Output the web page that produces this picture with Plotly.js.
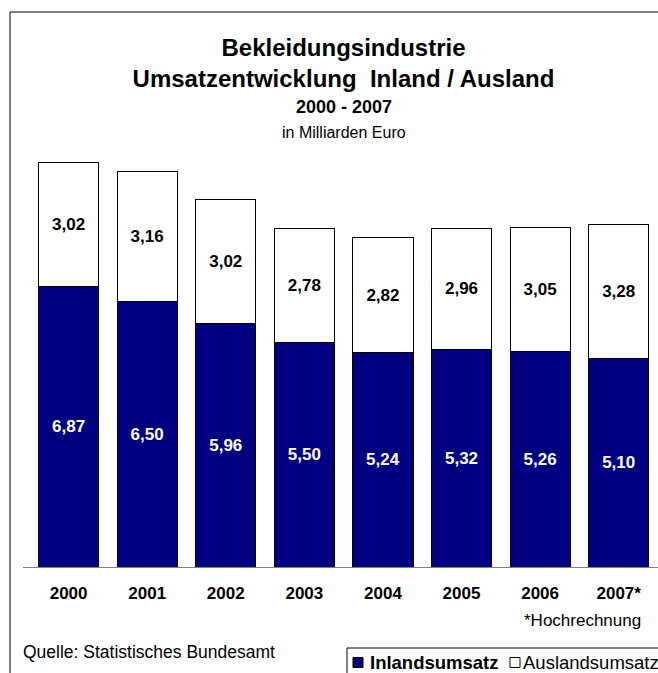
<!DOCTYPE html>
<html>
<head>
<meta charset="utf-8">
<script src="https://cdn.plot.ly/plotly-3.0.1.min.js"></script>
<style>
html, body { margin: 0; padding: 0; overflow: hidden; background: #fff; }
#chart { width: 720px; height: 673px; }
</style>
</head>
<body>
<div id="chart"></div>
<script>
// ---- data ----
const years = ['2000', '2001', '2002', '2003', '2004', '2005', '2006', '2007*'];
const inland = [6.87, 6.50, 5.96, 5.50, 5.24, 5.32, 5.26, 5.10];
const ausland = [3.02, 3.16, 3.02, 2.78, 2.82, 2.96, 3.05, 3.28];
const seriesNames = ['Inlandsumsatz', 'Auslandsumsatz'];
const titleLines = ['Bekleidungsindustrie', 'Umsatzentwicklung\u00a0 Inland / Ausland'];
const subTitle = '2000 - 2007';
const unitText = 'in Milliarden Euro';
const footnote = '*Hochrechnung';
const sourceText = 'Quelle: Statistisches Bundesamt';

// ---- geometry helpers (pixel -> paper) ----
const W = 720, H = 673;
const M = { l: 23, r: 62, t: 158, b: 106 };
const PW = W - M.l - M.r, PH = H - M.t - M.b;
const px = v => (v - M.l) / PW;
const py = v => (H - M.b - v) / PH;

const FONT = 'Arial, "Liberation Sans", sans-serif';
const NAVY = '#000080';

const traces = [
  {
    type: 'bar', x: years, y: inland, name: seriesNames[0],
    width: 0.765,
    marker: { color: NAVY, line: { color: '#000000', width: 1 } },
    texttemplate: '%{y:.2f}', textposition: 'inside', insidetextanchor: 'middle',
    constraintext: 'none',
    textfont: { family: FONT, size: 17, color: '#ffffff', weight: 'bold' },
    hoverinfo: 'skip', showlegend: false
  },
  {
    type: 'bar', x: years, y: ausland, name: seriesNames[1],
    width: 0.765,
    marker: { color: '#ffffff', line: { color: '#000000', width: 1 } },
    texttemplate: '%{y:.2f}', textposition: 'inside', insidetextanchor: 'middle',
    constraintext: 'none',
    textfont: { family: FONT, size: 17, color: '#000000', weight: 'bold' },
    hoverinfo: 'skip', showlegend: false
  }
];

const layout = {
  width: W, height: H,
  margin: M,
  paper_bgcolor: '#ffffff', plot_bgcolor: '#ffffff',
  separators: ',.',
  barmode: 'stack',
  showlegend: false,
  font: { family: FONT, color: '#000000' },
  title: {
    text: '<b>' + titleLines.join('<br>') + '</b>',
    font: { family: FONT, size: 24, color: '#000000' },
    xref: 'container', x: 343.5 / W, xanchor: 'center',
    yref: 'container', y: 1 - 56 / H, yanchor: 'top'
  },
  xaxis: {
    type: 'category', range: [-0.58, 7.5],
    showline: true, linecolor: '#808080', linewidth: 1,
    ticks: '', showgrid: false, zeroline: false,
    tickfont: { family: FONT, size: 17, color: '#000000', weight: 'bold' },
    ticklabelstandoff: 11, fixedrange: true
  },
  yaxis: { range: [0, 10], visible: false, fixedrange: true },
  shapes: [
    // outer frame
    { type: 'rect', xref: 'paper', yref: 'paper', layer: 'below',
      x0: px(10), x1: px(715), y0: py(12), y1: py(700),
      line: { color: '#000000', width: 1 }, fillcolor: 'rgba(0,0,0,0)' },
    // legend box
    { type: 'rect', xref: 'paper', yref: 'paper',
      x0: px(347), x1: px(700), y0: py(648), y1: py(700),
      line: { color: '#000000', width: 1 }, fillcolor: '#ffffff' },
    // legend keys
    { type: 'rect', xref: 'paper', yref: 'paper',
      x0: px(353), x1: px(363), y0: py(657.5), y1: py(667.5),
      line: { color: '#000000', width: 1 }, fillcolor: NAVY },
    { type: 'rect', xref: 'paper', yref: 'paper',
      x0: px(510), x1: px(520), y0: py(657.5), y1: py(667.5),
      line: { color: '#000000', width: 1 }, fillcolor: '#ffffff' }
  ],
  annotations: [
    { text: '<b>' + subTitle + '</b>', xref: 'paper', yref: 'paper',
      x: px(343.5), y: py(107), xanchor: 'center', yanchor: 'middle', showarrow: false,
      font: { family: FONT, size: 18, color: '#000000' } },
    { text: unitText, xref: 'paper', yref: 'paper',
      x: px(343.5), y: py(132), xanchor: 'center', yanchor: 'middle', showarrow: false,
      font: { family: FONT, size: 16, color: '#000000' } },
    { text: footnote, xref: 'paper', yref: 'paper',
      x: px(522), y: py(620), xanchor: 'left', yanchor: 'middle', showarrow: false,
      font: { family: FONT, size: 17, color: '#000000' } },
    { text: sourceText, xref: 'paper', yref: 'paper',
      x: px(21), y: py(652), xanchor: 'left', yanchor: 'middle', showarrow: false,
      font: { family: FONT, size: 17.5, color: '#000000' } },
    { text: '<b>' + seriesNames[0] + '</b>', xref: 'paper', yref: 'paper',
      x: px(368), y: py(662), xanchor: 'left', yanchor: 'middle', showarrow: false,
      font: { family: FONT, size: 18.5, color: '#000000' } },
    { text: seriesNames[1], xref: 'paper', yref: 'paper',
      x: px(521), y: py(662), xanchor: 'left', yanchor: 'middle', showarrow: false,
      font: { family: FONT, size: 18.5, color: '#000000' } }
  ]
};

Plotly.newPlot('chart', traces, layout, { displayModeBar: false, staticPlot: true });
</script>
</body>
</html>
